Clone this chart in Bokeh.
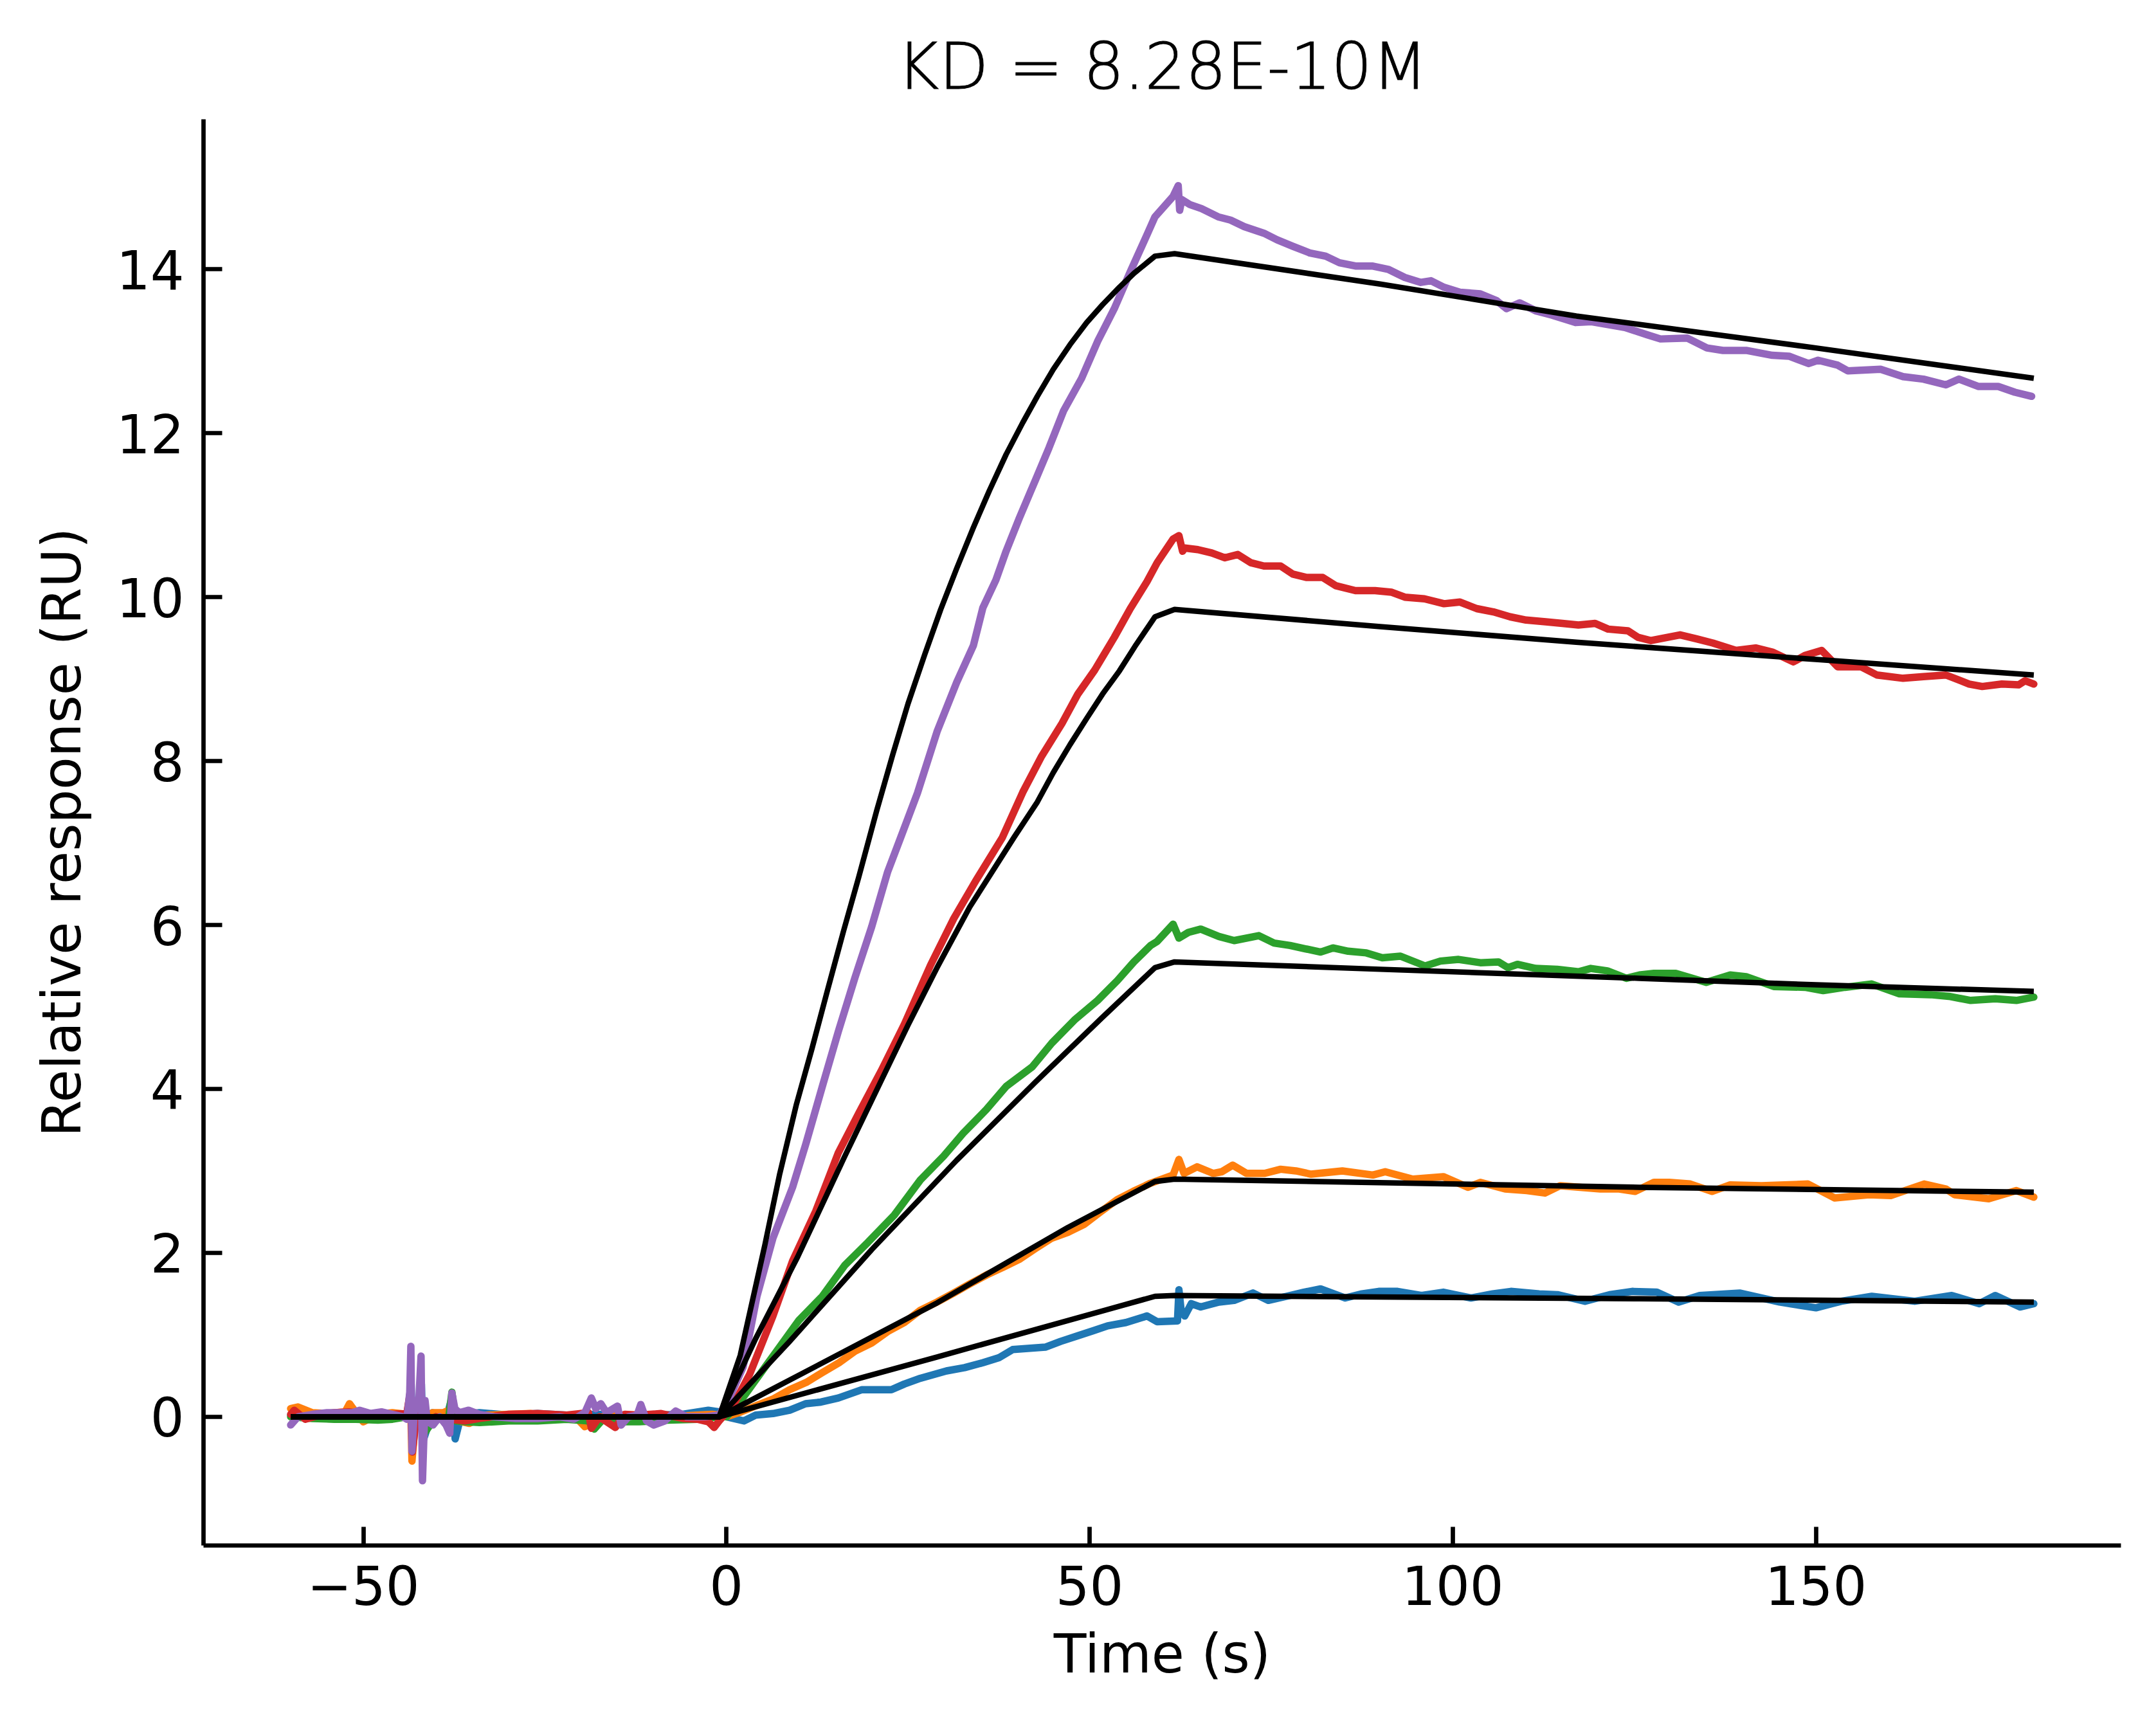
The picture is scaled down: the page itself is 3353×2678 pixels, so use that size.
from bokeh.plotting import figure
from bokeh.models import Range1d, FixedTicker
from bokeh.embed import file_html
from bokeh.resources import INLINE

# ---------------- data ----------------
title_text = "KD = 8.28E-10M"
x_label = "Time (s)"
y_label = "Relative response (RU)"
x_ticks = [-50, 0, 50, 100, 150]
x_tick_labels = ["\u221250", "0", "50", "100", "150"]
y_ticks = [0, 2, 4, 6, 8, 10, 12, 14]

blue_t = [-60, -57, -54, -51, -48, -45, -43.6, -43.45, -43.25, -42.4, -42.0, -41.8, -40.5, -38.5, -37.75, -37.35, -36.5,
          -34, -30, -26, -22, -18, -14, -10, -6, -2.5, -1, 0, 2.4, 4, 6.4, 8.7, 10.9, 13, 15.4, 18.6, 22.7, 24.5, 26.7,
          30.3, 32.8, 35.3, 37.5, 39.4, 43.9, 46, 48.4, 50.5, 52.5, 55, 57.9, 59.3, 62.1, 62.3, 62.6, 63.1, 64.0, 65.3,
          67.8, 69.9, 72.5, 74.6, 77.1, 79.5, 81.8, 85.2, 87.5, 89.8, 92.4, 95.7, 98.7, 102.5, 105.5, 108.0, 111.9,
          114.4, 118.2, 121.6, 124.7, 128.1, 131.1, 134.0, 139.5, 145.0, 150.0, 153.5, 157.7, 163.6, 168.7, 172.5,
          174.7, 178.1, 180]
blue_y = [0.02, 0.0, -0.02, -0.01, 0.0, 0.02, 0.05, 0.5, -0.2, 0.05, 0.4, -0.3, 0.05, 0.0, 0.25, -0.27, 0.03,
          0.05, 0.02, 0.04, 0.02, 0.03, 0.02, 0.02, 0.03, 0.08, 0.06, 0.0, -0.05, 0.02, 0.04, 0.08, 0.16, 0.18, 0.23,
          0.33, 0.33, 0.4, 0.47, 0.56, 0.6, 0.66, 0.72, 0.82, 0.85, 0.92, 0.99, 1.05, 1.11, 1.15, 1.23, 1.16, 1.17,
          1.55, 1.3, 1.23, 1.38, 1.34, 1.40, 1.42, 1.51, 1.42, 1.47, 1.52, 1.56, 1.45, 1.5, 1.53, 1.53, 1.48, 1.52,
          1.45, 1.50, 1.53, 1.50, 1.49, 1.41, 1.49, 1.53, 1.52, 1.40, 1.48, 1.51, 1.40, 1.33, 1.41, 1.47, 1.41, 1.48,
          1.38, 1.48, 1.34, 1.38]

orange_t = [-60, -59, -57, -55, -52.5, -51.9, -51, -50, -48, -46, -44, -43.5, -43.3, -42.8, -42, -41.5, -40.5, -39,
            -37.7, -37, -35.4, -33, -30, -27, -24, -21, -19.5, -17, -14, -10, -6, -2, -1, 0, 2, 4.2, 6.5, 8.7, 11,
            13.2, 15.5, 17.7, 20, 22.2, 24.5, 26.7, 29, 31.3, 33.5, 35.8, 38, 40.3, 42.5, 44.8, 47, 49.3, 51.5, 53.8,
            56, 58.4, 61.5, 62.3, 63.0, 64.8, 67.0, 68.2, 69.7, 71.6, 74.1, 76.3, 78.4, 80.5, 84.8, 89.0, 90.7, 94.5,
            98.7, 102.1, 103.8, 107.2, 110.2, 112.7, 114.8, 120.3, 122.9, 125.1, 127.7, 129.8, 132.7, 135.7, 138.2,
            142.5, 148.9, 152.6, 157.3, 160.3, 164.9, 167.9, 169.1, 173.8, 177.6, 180]
orange_y = [0.1, 0.12, 0.05, 0.04, 0.06, 0.16, 0.05, -0.06, 0.03, 0.05, 0.03, 0.3, -0.54, 0.0, 0.1, -0.1, 0.05, 0.05,
            0.1, -0.05, -0.08, 0.02, 0.03, 0.04, 0.0, 0.02, -0.12, 0.0, 0.02, 0.0, 0.01, 0.03, 0.02, 0.0, 0.06, 0.14,
            0.22, 0.33, 0.42, 0.54, 0.66, 0.80, 0.9, 1.04, 1.15, 1.30, 1.40, 1.51, 1.62, 1.73, 1.82, 1.92, 2.05, 2.18,
            2.25, 2.35, 2.5, 2.65, 2.75, 2.85, 2.95, 3.14, 2.97, 3.05, 2.97, 2.99, 3.07, 2.97, 2.97, 3.02, 3.00, 2.96,
            3.00, 2.95, 2.99, 2.90, 2.93, 2.80, 2.86, 2.78, 2.76, 2.73, 2.82, 2.78, 2.78, 2.75, 2.86, 2.86, 2.84, 2.75,
            2.83, 2.82, 2.84, 2.67, 2.71, 2.70, 2.84, 2.78, 2.71, 2.66, 2.76, 2.68]

green_t = [-60, -57, -54, -51, -48, -46, -44, -43.5, -43.25, -42, -41.6, -40, -38.3, -37.8, -37.3, -36, -34, -30, -26,
           -22, -19, -18.2, -17, -15, -12, -8, -4, -1, 0, 2, 4.2, 6.9, 10, 13.2, 16.3, 19.5, 23.1, 26.7, 29.9, 32.6,
           35.8, 38.5, 42.1, 44.8, 47.9, 51.1, 53.8, 56.1, 58.4, 59.3, 61.5, 62.3, 63.6, 65.3, 67.8, 69.9, 73.3, 75.4,
           77.6, 79.7, 81.8, 83.5, 85.6, 88.1, 90.3, 92.8, 96.2, 98.3, 100.8, 103.8, 106.3, 107.6, 108.9, 111.4, 114.4,
           117.3, 119.0, 121.3, 123.9, 125.7, 127.7, 130.7, 134.9, 138.2, 140.4, 144.2, 148.5, 151.0, 154, 157.7,
           161.5, 165.8, 168.3, 171.3, 174.7, 177.6, 180]
green_y = [0.0, -0.02, -0.03, -0.03, -0.04, -0.03, 0.0, 0.2, -0.2, 0.1, -0.2, 0.0, -0.05, 0.3, -0.05, -0.06, -0.07,
           -0.05, -0.05, -0.03, -0.05, -0.15, -0.03, -0.06, -0.06, -0.04, -0.03, 0.0, 0.0, 0.2, 0.47, 0.80, 1.18,
           1.47, 1.85, 2.13, 2.46, 2.89, 3.18, 3.46, 3.75, 4.03, 4.27, 4.56, 4.84, 5.08, 5.32, 5.55, 5.75, 5.80, 6.01,
           5.84, 5.91, 5.95, 5.86, 5.81, 5.87, 5.78, 5.75, 5.71, 5.67, 5.72, 5.68, 5.66, 5.60, 5.62, 5.50, 5.56, 5.58,
           5.54, 5.55, 5.48, 5.52, 5.47, 5.46, 5.43, 5.47, 5.44, 5.35, 5.39, 5.41, 5.41, 5.30, 5.39, 5.37, 5.25, 5.24,
           5.20, 5.24, 5.28, 5.16, 5.15, 5.13, 5.08, 5.10, 5.08, 5.12]

red_t = [-60, -59.5, -58, -56, -54, -52, -50, -48, -46, -44, -43.5, -43.25, -42.5, -41.9, -41, -40, -38, -36, -34,
         -30, -26, -22, -19, -18.6, -17.5, -15.3, -14, -12, -9, -6, -4, -2.5, -1.7, -1, 1, 3.2, 6.4, 9.1, 12.3, 15.4,
         18.2, 21.3, 24.5, 28.1, 31.3, 34.4, 38.0, 40.8, 43.4, 46.2, 48.4, 50.7, 53.4, 55.6, 57.9, 59.3, 61.5, 62.3,
         62.8, 63.1, 64.9, 66.8, 68.6, 70.4, 72.2, 74.0, 76.3, 78.0, 79.9, 82.1, 83.9, 86.6, 89.3, 91.6, 93.4, 96.1,
         98.8, 101.0, 103.3, 105.6, 107.9, 110.1, 112.8, 115.1, 117.3, 119.6, 121.4, 124.1, 125.5, 127.3, 131.3,
         133.6, 135.8, 139.0, 141.7, 144.0, 146.9, 148.5, 150.8, 153.0, 156.2, 158.4, 162.0, 164.8, 167.9, 171.1,
         172.9, 175.6, 177.9, 178.8, 180]
red_y = [0.03, 0.08, -0.03, 0.02, 0.05, 0.06, 0.04, 0.02, 0.03, 0.04, 0.32, -0.43, 0.15, 0.2, -0.05, 0.0, -0.03,
         -0.05, -0.02, 0.03, 0.04, 0.02, 0.05, -0.14, 0.0, -0.13, 0.03, 0.02, 0.04, -0.02, -0.03, -0.06, -0.13, -0.05,
         0.15, 0.52, 1.23, 1.90, 2.51, 3.22, 3.70, 4.22, 4.79, 5.51, 6.08, 6.55, 7.07, 7.62, 8.06, 8.46, 8.82, 9.11,
         9.51, 9.86, 10.19, 10.42, 10.71, 10.75, 10.56, 10.60, 10.58, 10.54, 10.48, 10.52, 10.42, 10.38, 10.38, 10.28,
         10.24, 10.24, 10.14, 10.08, 10.08, 10.06, 10.0, 9.98, 9.92, 9.94, 9.86, 9.82, 9.76, 9.72, 9.70, 9.68, 9.66,
         9.68, 9.61, 9.59, 9.51, 9.47, 9.54, 9.49, 9.44, 9.35, 9.38, 9.33, 9.21, 9.29, 9.35, 9.15, 9.15, 9.05, 9.01,
         9.03, 9.05, 8.94, 8.91, 8.94, 8.93, 8.98, 8.94]

purple_t = [-60, -59, -57, -55, -53, -51.5, -50.5, -49, -47.5, -46, -44.5, -44, -43.6, -43.45, -43.3, -42.9, -42.4,
            -42.05, -41.85, -41.5, -41.2, -40.4, -39.5, -38.6, -38.1, -37.8, -37.4, -36.8, -35.5, -34, -32, -29, -26,
            -23, -21, -19.5, -18.6, -18.0, -17.3, -16.5, -15.0, -14.5, -13.5, -12.3, -11.8, -11, -10, -8.5, -7, -5.5,
            -3, -1, 0.5, 2.3, 4.2, 6.4, 9.1, 10.9, 13.2, 15.4, 17.7, 20.0, 22.2, 24.0, 26.3, 29.0, 31.7, 34.0, 35.3,
            37.1, 38.5, 40.3, 42.5, 44.4, 46.4, 48.9, 51.1, 53.4, 55.6, 57.9, 59.0, 61.5, 62.2, 62.4, 62.7, 63.8,
            65.4, 67.7, 69.4, 71.3, 74.0, 75.8, 78.0, 80.3, 82.5, 84.4, 86.6, 88.9, 91.1, 93.4, 95.6, 97.0, 98.8,
            101.0, 103.8, 106.0, 107.4, 109.2, 111.5, 113.7, 116.9, 119.1, 123.7, 126.8, 128.6, 132.3, 135.0, 137.2,
            140.4, 144.0, 146.3, 149.0, 150.3, 153.0, 154.4, 158.9, 162.0, 164.8, 167.9, 169.7, 172.4, 175.1, 177.4,
            179.7]
purple_y = [-0.1, 0.0, 0.03, 0.05, 0.05, 0.05, 0.08, 0.04, 0.06, 0.03, 0.0, -0.03, 0.3, 0.86, -0.42, 0.2, 0.1, 0.74,
            -0.78, 0.2, -0.05, -0.1, 0.0, -0.1, -0.2, 0.29, 0.1, 0.05, 0.08, 0.03, 0.0, -0.02, -0.02, 0.0, -0.03, 0.05,
            0.23, 0.1, 0.16, 0.05, 0.13, -0.1, 0.0, 0.02, 0.15, -0.05, -0.1, -0.05, 0.07, 0.0, 0.0, 0.02, 0.25, 0.61,
            1.47, 2.18, 2.80, 3.32, 4.03, 4.70, 5.36, 5.98, 6.65, 7.07, 7.61, 8.36, 8.96, 9.41, 9.87, 10.21, 10.56,
            10.96, 11.42, 11.82, 12.27, 12.67, 13.12, 13.52, 13.97, 14.42, 14.64, 14.89, 15.02, 14.72, 14.85, 14.79,
            14.74, 14.64, 14.60, 14.52, 14.44, 14.36, 14.28, 14.20, 14.16, 14.08, 14.04, 14.04, 14.0, 13.90, 13.84,
            13.86, 13.78, 13.72, 13.70, 13.62, 13.52, 13.59, 13.49, 13.44, 13.35, 13.36, 13.29, 13.20, 13.15, 13.16,
            13.04, 13.01, 13.01, 12.95, 12.94, 12.85, 12.89, 12.83, 12.76, 12.78, 12.69, 12.66, 12.59, 12.66, 12.57,
            12.57, 12.50, 12.45]

fit1_t = [-60, -1, 29, 59, 61.7, 125.7, 180]
fit1_y = [0, 0, 0.73, 1.47, 1.48, 1.44, 1.40]
fit2_t = [-60, -1, 10.9, 29, 47, 59, 61.7, 125.7, 180]
fit2_y = [0, 0, 0.55, 1.39, 2.31, 2.87, 2.90, 2.80, 2.74]
fit3_t = [-60, -1, 8.7, 20, 31.7, 42.5, 51.6, 59, 61.7, 90, 125.7, 150, 180]
fit3_y = [0, 0, 0.92, 2.04, 3.13, 4.08, 4.86, 5.48, 5.55, 5.46, 5.35, 5.27, 5.19]
fit4_t = [-60, -1, 4, 9.8, 16.3, 21.3, 25, 29, 33.5, 39.6, 42.8, 45, 47.3, 49.6, 51.8, 54.1, 56.4, 59.0, 61.7, 90,
          117, 150, 180]
fit4_y = [0, 0, 0.95, 1.95, 3.18, 4.1, 4.78, 5.48, 6.22, 7.07, 7.5, 7.86, 8.2, 8.52, 8.82, 9.1, 9.42, 9.76, 9.85,
          9.64, 9.45, 9.24, 9.05]
fit5_t = [-60, -1, 1.9, 5.3, 7.3, 9.6, 11.8, 13.9, 16.1, 18.2, 20.7, 22.9, 25.0, 27.3, 29.5, 31.7, 34.0, 36.2, 38.5,
          40.8, 42.8, 45.0, 47.3, 49.6, 51.8, 54.1, 56.1, 59.0, 61.7, 90, 117, 150, 180]
fit5_y = [0, 0, 0.75, 2.1, 2.95, 3.8, 4.5, 5.2, 5.92, 6.58, 7.4, 8.08, 8.7, 9.3, 9.85, 10.35, 10.85, 11.3, 11.74,
          12.13, 12.45, 12.78, 13.08, 13.35, 13.57, 13.78, 13.95, 14.16, 14.19, 13.82, 13.43, 13.04, 12.67]

series = [
    (blue_t, blue_y, "#1f77b4"),
    (orange_t, orange_y, "#ff7f0e"),
    (green_t, green_y, "#2ca02c"),
    (red_t, red_y, "#d62728"),
    (purple_t, purple_y, "#9467bd"),
]
fits = [(fit1_t, fit1_y), (fit2_t, fit2_y), (fit3_t, fit3_y), (fit4_t, fit4_y), (fit5_t, fit5_y)]

# ---------------- figure ----------------
FONT = "DejaVu Sans"
p = figure(
    frame_width=2982, frame_height=2218,
    min_border_left=316, min_border_right=38, min_border_top=185, min_border_bottom=257,
    x_range=Range1d(-72, 192), y_range=Range1d(-1.57, 15.83),
    output_backend="svg", toolbar_location=None, title=title_text,
)
p.outline_line_color = None
p.background_fill_color = "white"
p.border_fill_color = "white"
p.xgrid.visible = False
p.ygrid.visible = False

p.title.text_font = FONT
p.title.text_font_size = "100px"
p.title.text_font_style = "normal"
p.title.text_color = "black"
p.title.align = "center"
p.title.standoff = 48
try:
    # a thin outline in the text colour to match the stroke weight of the reference title
    p.title.text_outline_color = "black"
except Exception:
    pass

for ax in (p.xaxis[0], p.yaxis[0]):
    ax.axis_line_width = 6.7
    ax.axis_line_color = "black"
    ax.major_tick_line_width = 6.7
    ax.major_tick_line_color = "black"
    ax.major_tick_in = 29
    ax.major_tick_out = 0
    ax.minor_tick_line_color = None
    ax.major_label_text_font = FONT
    ax.major_label_text_font_size = "83px"
    ax.major_label_text_color = "black"
    ax.axis_label_text_font = FONT
    ax.axis_label_text_font_size = "83px"
    ax.axis_label_text_font_style = "normal"
    ax.axis_label_text_color = "black"

p.xaxis[0].ticker = FixedTicker(ticks=x_ticks)
p.xaxis[0].major_label_overrides = {t: s for t, s in zip(x_ticks, x_tick_labels)}
p.yaxis[0].ticker = FixedTicker(ticks=y_ticks)
p.xaxis[0].axis_label = x_label
p.yaxis[0].axis_label = y_label
p.xaxis[0].major_label_standoff = 30
p.yaxis[0].major_label_standoff = 30
p.xaxis[0].axis_label_standoff = 25
p.yaxis[0].axis_label_standoff = 33

for t, y, c in series:
    p.line(t, y, line_color=c, line_width=11.5, line_join="round", line_cap="round")
for t, y in fits:
    p.line(t, y, line_color="black", line_width=8.5, line_join="round")

open("out.html", "w").write(file_html(p, INLINE))
